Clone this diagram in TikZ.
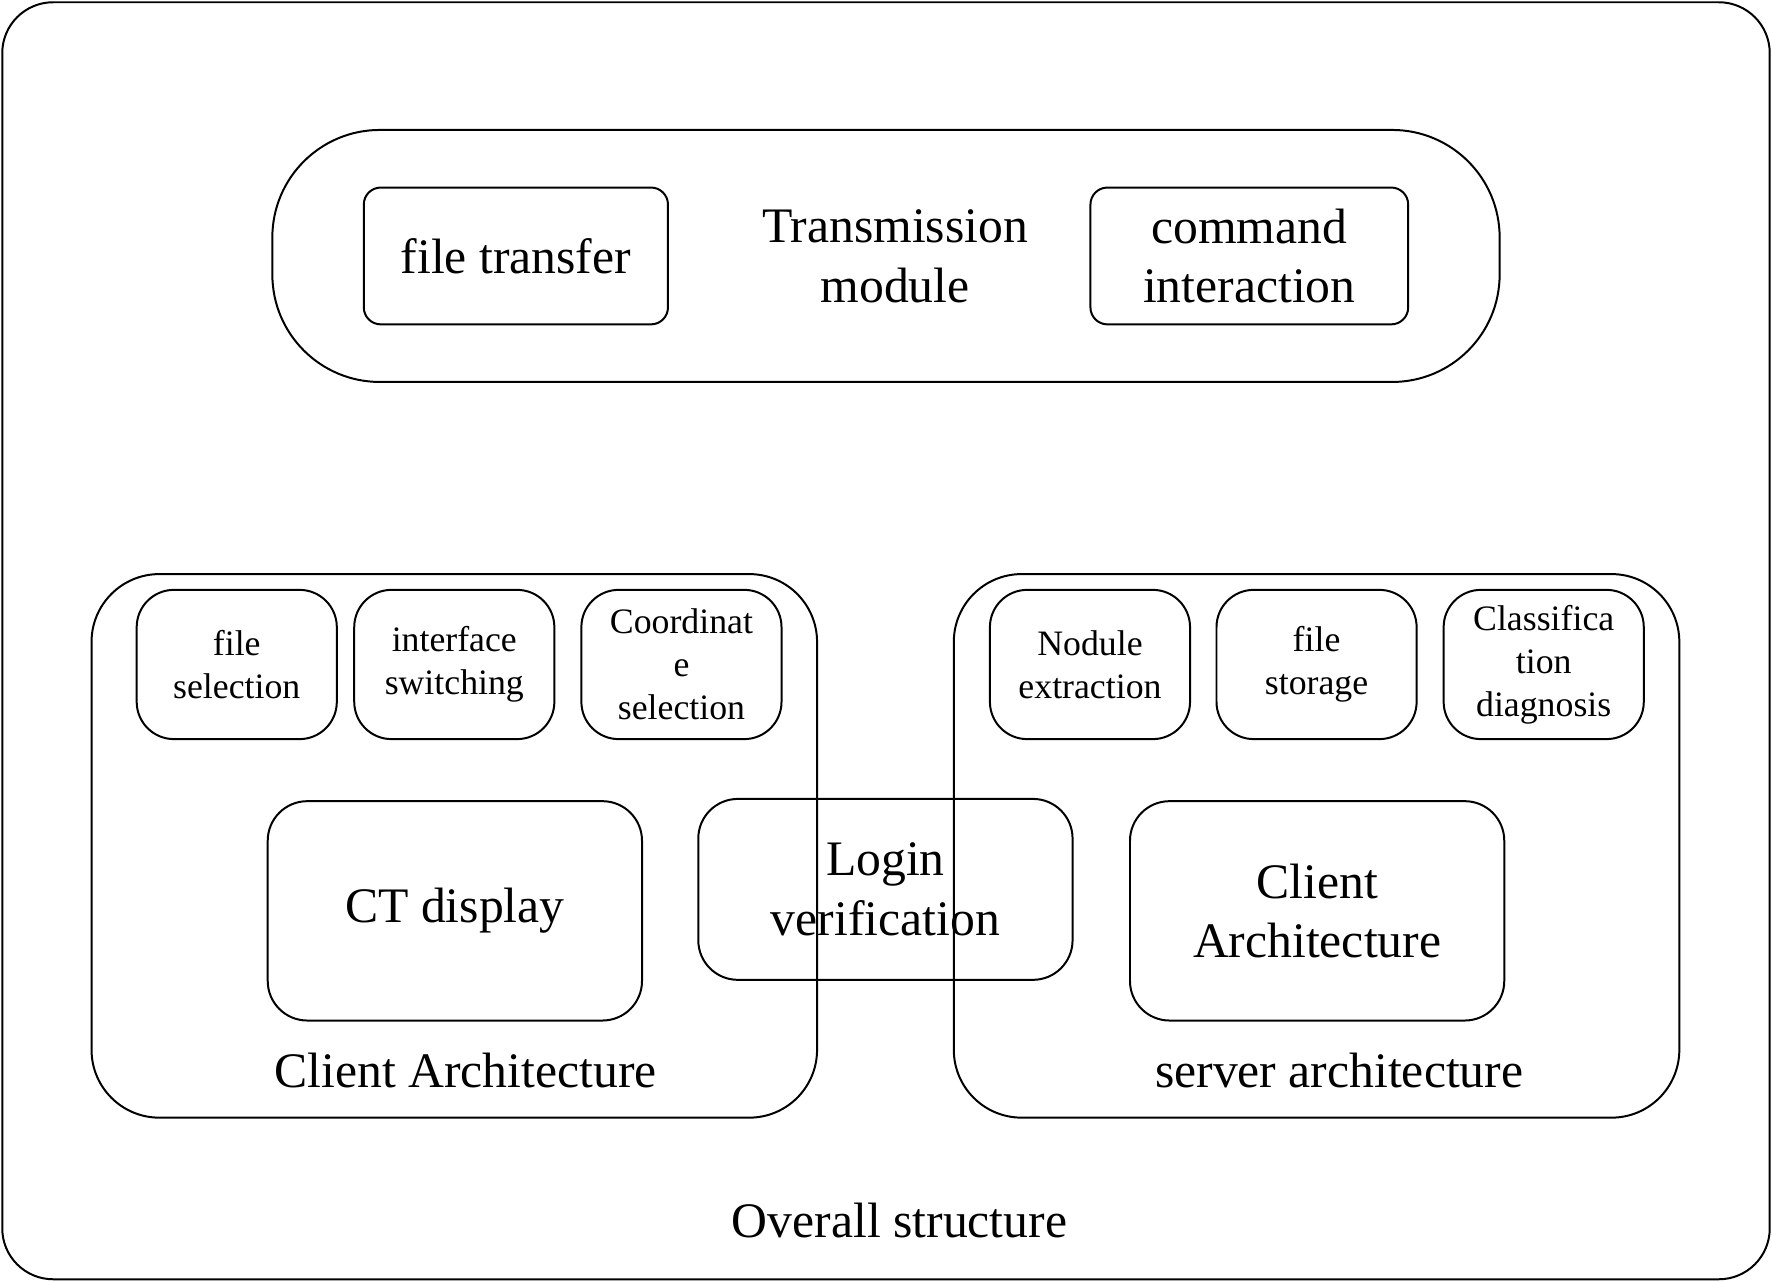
\documentclass[tikz,border=0pt]{standalone}
\usepackage{fontspec}
\setmainfont{Liberation Serif}
\begin{document}
\begin{tikzpicture}[x=0.01cm,y=-0.01cm,
  big/.style={font=\fontsize{12.5pt}{15pt}\selectfont},
  sm/.style={font=\fontsize{9pt}{10.8pt}\selectfont},
  box/.style={draw,line width=0.5pt}]
\useasboundingbox (0,0) rectangle (1568,1134);
\draw[box,rounded corners=0.45cm] (2,2) rectangle (1566,1132);
\draw[box,rounded corners=0.95cm] (241,115) rectangle (1327,338);
\node[box,rounded corners=0.15cm,minimum width=2.69cm,minimum height=1.21cm,big] (ft) at (456.5,226.5) {file transfer};
\node[big,align=center] (tm) at (792,227) {Transmission\\module};
\node[box,rounded corners=0.15cm,minimum width=2.81cm,minimum height=1.21cm,big,align=center] (ci) at (1105.5,226.5) {command\\interaction};
\draw[box,rounded corners=0.6cm] (81,508) rectangle (723,989);
\draw[box,rounded corners=0.6cm] (844,508) rectangle (1486,989);
\tikzset{sb/.style={box,rounded corners=0.33cm,minimum width=1.77cm,minimum height=1.32cm,sm,align=center}}
\node[sb] (fs) at (209.5,588) {file\\selection};
\node[sb] (is) at (402,588) {interface\\switching};
\node[sb] (cs) at (603,588) {Coordinat\\e\\selection};
\node[sb] (ne) at (964.5,588) {Nodule\\extraction};
\node[sb] (fst) at (1165,588) {file\\storage};
\node[sb] (cd) at (1366,588) {Classifica\\tion\\diagnosis};
\tikzset{mb/.style={box,rounded corners=0.35cm,minimum width=3.31cm,minimum height=1.94cm,big,align=center}}
\node[mb] (ct) at (402.5,806) {CT display};
\node[box,rounded corners=0.35cm,minimum width=3.31cm,minimum height=1.6cm,big,align=center] (lv) at (783.5,787) {Login\\verification};
\node[mb] (ca) at (1165.5,806) {Client\\Architecture};
\node[big] (cal) at (412,947) {Client Architecture};
\node[big] (sal) at (1185,947) {server architecture};
\node[big] (os) at (796,1080) {Overall structure};
\end{tikzpicture}
\end{document}
